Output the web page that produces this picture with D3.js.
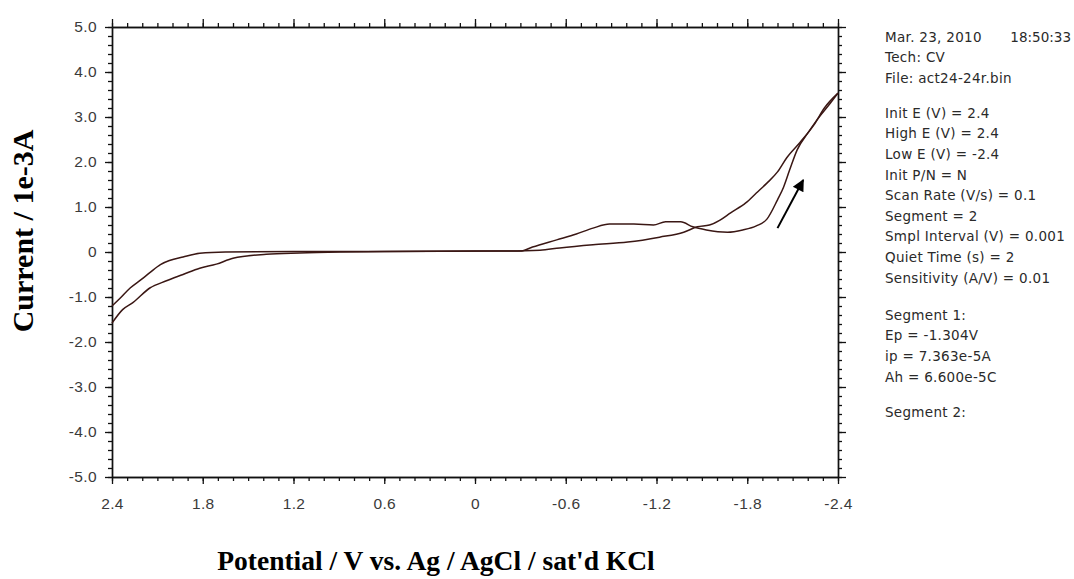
<!DOCTYPE html>
<html>
<head>
<meta charset="utf-8">
<script src="https://cdn.jsdelivr.net/npm/d3@7"></script>
<style>
	body { margin: 0; background: #fff; }
	#container { width: 1074px; height: 579px; }
</style>
</head>
<body>
<div id="container"></div>
<script>
// tick labels
const potentialTicks = [2.4, 1.8, 1.2, 0.6, 0, -0.6, -1.2, -1.8, -2.4];
const potentialLabels = ["2.4", "1.8", "1.2", "0.6", "0", "-0.6", "-1.2", "-1.8", "-2.4"];
const currentTicks = [5, 4, 3, 2, 1, 0, -1, -2, -3, -4, -5];
const currentLabels = ["5.0", "4.0", "3.0", "2.0", "1.0", "0", "-1.0", "-2.0", "-3.0", "-4.0", "-5.0"];

// segment 1: 2.4 V -> -2.4 V (current in 1e-3 A)
const fwdE = [2.40, 2.35, 2.28, 2.21, 2.15, 2.08, 2.02, 1.93, 1.82, 1.65, 1.20, 0.60, 0.00, -0.30,
	-0.38, -0.54, -0.67, -0.78, -0.89, -1.05, -1.18, -1.26, -1.36, -1.44, -1.53, -1.67, -1.77,
	-1.86, -1.93, -2.00, -2.04, -2.08, -2.13, -2.20, -2.26, -2.35, -2.40];
const fwdI = [-1.20, -1.04, -0.80, -0.62, -0.46, -0.28, -0.19, -0.11, -0.03, 0.00, 0.01, 0.01, 0.02, 0.02,
	0.11, 0.27, 0.40, 0.53, 0.62, 0.62, 0.60, 0.67, 0.67, 0.56, 0.49, 0.44, 0.49,
	0.58, 0.73, 1.16, 1.44, 1.82, 2.27, 2.64, 2.93, 3.31, 3.53];

// segment 2: -2.4 V -> 2.4 V
const revE = [-2.40, -2.31, -2.24, -2.15, -2.06, -2.00, -1.93, -1.86, -1.79, -1.69, -1.62, -1.55,
	-1.47, -1.38, -1.22, -1.01, -0.78, -0.56, -0.43, -0.17, 0.60, 0.89, 1.16, 1.38, 1.60, 1.71,
	1.82, 1.93, 2.04, 2.15, 2.26, 2.33, 2.40];
const revI = [3.53, 3.20, 2.82, 2.44, 2.09, 1.78, 1.53, 1.31, 1.09, 0.87, 0.71, 0.60,
	0.56, 0.44, 0.33, 0.22, 0.16, 0.09, 0.04, 0.02, 0.01, 0.00, -0.02, -0.05, -0.14, -0.27,
	-0.36, -0.50, -0.64, -0.80, -1.12, -1.28, -1.58];

// scan direction arrow (tail, head)
const arrowE = [-2.00, -2.17];
const arrowI = [0.53, 1.60];

// instrument parameter block
const infoHeader = ["Mar. 23, 2010", "Tech: CV", "File: act24-24r.bin"];
const infoTime = "18:50:33";
const infoParams = ["Init E (V) = 2.4", "High E (V) = 2.4", "Low E (V) = -2.4", "Init P/N = N",
	"Scan Rate (V/s) = 0.1", "Segment = 2", "Smpl Interval (V) = 0.001", "Quiet Time (s) = 2",
	"Sensitivity (A/V) = 0.01"];
const infoSeg1 = ["Segment 1:", "Ep = -1.304V", "ip = 7.363e-5A", "Ah = 6.600e-5C"];
const infoSeg2 = ["Segment 2:"];

window.addEventListener("load", () => drawChart());

function drawChart() {
	const width = 1074;
	const height = 579;
	const plot = { left: 112, right: 838, top: 27, bottom: 477 };
	const lineColor = "#3a1714";
	const labelFont = "'Liberation Sans', Arial, sans-serif";

	const svg = d3
		.select("#container")
		.append("svg")
		.attr("width", width)
		.attr("height", height);

	const x = d3.scaleLinear().domain([2.4, -2.4]).range([plot.left, plot.right]);
	const y = d3.scaleLinear().domain([-5, 5]).range([plot.bottom, plot.top]);

	const minorX = d3.range(-24, 25).map((d) => d / 10);
	const minorY = d3.range(-25, 26).map((d) => d / 5);

	drawAxes();
	drawCurves();
	drawArrow();
	drawTitles();
	drawInfo();

	function styleAxis(g) {
		g.select(".domain").attr("stroke", "#111").attr("stroke-width", 1.4);
		g.selectAll(".tick line").attr("stroke", "#111").attr("stroke-width", 1.3);
		g.selectAll(".tick text")
			.attr("fill", "#3a3a3a")
			.style("font-family", labelFont)
			.style("font-size", "15.5px")
			.style("letter-spacing", "0.4px");
	}

	function drawAxes() {
		// minor ticks
		const minors = [
			[d3.axisBottom(x).tickValues(minorX), plot.bottom, "x"],
			[d3.axisTop(x).tickValues(minorX), plot.top, "x"],
			[d3.axisLeft(y).tickValues(minorY), plot.left, "y"],
			[d3.axisRight(y).tickValues(minorY), plot.right, "y"],
		];
		minors.forEach(([ax, pos, dir]) => {
			const g = svg
				.append("g")
				.attr("transform", dir === "x" ? `translate(0, ${pos})` : `translate(${pos}, 0)`)
				.call(ax.tickSize(4).tickSizeOuter(0).tickFormat(""));
			styleAxis(g);
		});

		// major ticks with labels
		const bottom = svg
			.append("g")
			.attr("transform", `translate(0, ${plot.bottom})`)
			.call(
				d3.axisBottom(x)
					.tickValues(potentialTicks)
					.tickFormat((d, i) => potentialLabels[i])
					.tickSize(7)
					.tickPadding(14)
					.tickSizeOuter(0)
			);
		styleAxis(bottom);

		const top = svg
			.append("g")
			.attr("transform", `translate(0, ${plot.top})`)
			.call(d3.axisTop(x).tickValues(potentialTicks).tickSize(8).tickSizeOuter(0).tickFormat(""));
		styleAxis(top);

		const left = svg
			.append("g")
			.attr("transform", `translate(${plot.left}, 0)`)
			.call(
				d3.axisLeft(y)
					.tickValues(currentTicks)
					.tickFormat((d, i) => currentLabels[i])
					.tickSize(7)
					.tickPadding(8)
					.tickSizeOuter(0)
			);
		styleAxis(left);

		const right = svg
			.append("g")
			.attr("transform", `translate(${plot.right}, 0)`)
			.call(d3.axisRight(y).tickValues(currentTicks).tickSize(8).tickSizeOuter(0).tickFormat(""));
		styleAxis(right);
	}

	function drawCurves() {
		const line = d3
			.line()
			.x((d) => x(d[0]))
			.y((d) => y(d[1]))
			.curve(d3.curveMonotoneX);

		const segments = [
			d3.zip(fwdE, fwdI),
			d3.zip(revE, revI),
		];

		svg
			.append("g")
			.attr("class", "curves")
			.selectAll("path")
			.data(segments)
			.enter()
			.append("path")
			.attr("d", (d) => line(d))
			.attr("fill", "none")
			.attr("stroke", lineColor)
			.attr("stroke-width", 1.5)
			.attr("stroke-linejoin", "round");
	}

	function drawArrow() {
		svg
			.append("defs")
			.append("marker")
			.attr("id", "head")
			.attr("viewBox", "0 0 10 10")
			.attr("refX", 9)
			.attr("refY", 5)
			.attr("markerWidth", 14)
			.attr("markerHeight", 12)
			.attr("markerUnits", "userSpaceOnUse")
			.attr("orient", "auto")
			.append("path")
			.attr("d", "M0,0 L10,5 L0,10 Z")
			.attr("fill", "#000");

		svg
			.append("line")
			.attr("x1", x(arrowE[0]))
			.attr("y1", y(arrowI[0]))
			.attr("x2", x(arrowE[1]))
			.attr("y2", y(arrowI[1]))
			.attr("stroke", "#000")
			.attr("stroke-width", 2)
			.attr("marker-end", "url(#head)");
	}

	function drawTitles() {
		svg
			.append("text")
			.attr("x", (plot.left + plot.right) / 2 - 39)
			.attr("y", 570)
			.attr("text-anchor", "middle")
			.style("font-family", "'Liberation Serif', 'Times New Roman', serif")
			.style("font-weight", "bold")
			.style("font-size", "27.5px")
			.attr("fill", "#000")
			.text("Potential / V vs. Ag / AgCl / sat'd KCl");

		svg
			.append("text")
			.attr("transform", `translate(33, 231) rotate(-90)`)
			.attr("text-anchor", "middle")
			.style("font-family", "'Liberation Serif', 'Times New Roman', serif")
			.style("font-weight", "bold")
			.style("font-size", "30px")
			.attr("fill", "#000")
			.text("Current / 1e-3A");
	}

	function drawInfo() {
		const lineH = 20.6;
		const groups = [
			[infoHeader, 36.7],
			[infoParams, 113],
			[infoSeg1, 315],
			[infoSeg2, 412],
		];
		const g = svg
			.append("g")
			.attr("class", "info")
			.style("font-family", "'DejaVu Sans', Verdana, sans-serif")
			.style("font-size", "13.5px")
			.style("letter-spacing", "0.3px")
			.attr("fill", "#2a2a2a");

		groups.forEach(([lines, y0]) => {
			g.selectAll(null)
				.data(lines)
				.enter()
				.append("text")
				.attr("x", 885)
				.attr("y", (d, i) => y0 + i * lineH)
				.attr("dy", "0.36em")
				.text((d) => d);
		});

		g.append("text")
			.attr("x", 1071)
			.attr("y", 36.7)
			.attr("dy", "0.36em")
			.attr("text-anchor", "end")
			.style("letter-spacing", "0px")
			.text(infoTime);
	}
}
</script>
</body>
</html>
